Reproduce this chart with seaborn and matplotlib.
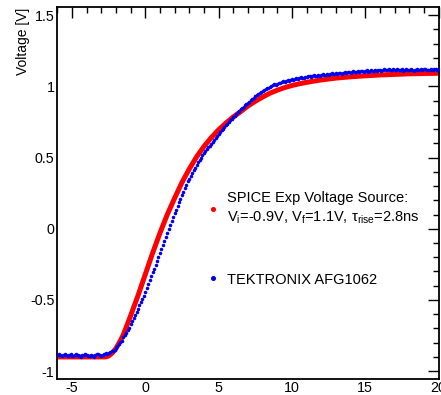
import numpy as np
import pandas as pd
import matplotlib
matplotlib.use("Agg")
import matplotlib.pyplot as plt
import seaborn as sns
from matplotlib.lines import Line2D
from matplotlib.ticker import MultipleLocator

# ---------------- data ----------------
red_t = [-6.0, -5.0, -4.0, -3.0, -2.7, -2.5, -2.25, -2.0, -1.75, -1.5, -1.0, -0.5,
         0.0, 0.5, 1.0, 1.5, 2.0, 2.5, 3.0, 3.5, 4.0, 4.5, 5.0, 5.5, 6.0, 6.5, 7.0,
         7.5, 8.0, 8.5, 9.0, 9.5, 10.0, 10.5, 11.0, 11.5, 12.0, 13.0, 14.0, 15.0,
         16.0, 17.0, 18.0, 19.0, 20.0]
red_v = [-0.900, -0.900, -0.900, -0.900, -0.900, -0.893, -0.872, -0.840, -0.795,
         -0.745, -0.610, -0.470, -0.320, -0.170, -0.030, 0.100, 0.215, 0.325,
         0.420, 0.505, 0.578, 0.640, 0.695, 0.742, 0.785, 0.822, 0.862, 0.895,
         0.925, 0.952, 0.973, 0.991, 1.006, 1.018, 1.028, 1.037, 1.045, 1.058,
         1.067, 1.074, 1.080, 1.084, 1.088, 1.090, 1.092]

# measured samples, every 0.1 ns from -6.0 to 20.0
blue_t = np.round(np.arange(-60, 201) / 10.0, 1)
blue_v = [
    -0.884, -0.879, -0.886, -0.891, -0.883, -0.878, -0.887, -0.893, -0.889, -0.882,
    -0.890, -0.896, -0.887, -0.880, -0.885, -0.892, -0.898, -0.889, -0.883, -0.879,
    -0.886, -0.894, -0.890, -0.884, -0.891, -0.897, -0.888, -0.881, -0.878, -0.886,
    -0.893, -0.887, -0.876, -0.871, -0.880, -0.872, -0.862, -0.858, -0.861, -0.850,
    -0.838, -0.826, -0.810, -0.797, -0.786, -0.760, -0.745, -0.730, -0.712, -0.695,
    -0.668, -0.648, -0.626, -0.605, -0.583, -0.561, -0.538, -0.516, -0.495, -0.470,
    -0.443, -0.415, -0.388, -0.360, -0.332, -0.305, -0.280, -0.255, -0.228, -0.200,
    -0.172, -0.145, -0.115, -0.087, -0.058, -0.030, 0.000, 0.028, 0.056, 0.085,
    0.108, 0.135, 0.160, 0.186, 0.212, 0.236, 0.258, 0.285, 0.310, 0.332,
    0.350, 0.370, 0.392, 0.410, 0.430, 0.448, 0.466, 0.484, 0.500, 0.516,
    0.530, 0.544, 0.557, 0.571, 0.584, 0.597, 0.610, 0.624, 0.638, 0.651,
    0.664, 0.676, 0.690, 0.700, 0.714, 0.726, 0.738, 0.750, 0.762, 0.772,
    0.784, 0.795, 0.807, 0.817, 0.828, 0.838, 0.848, 0.858, 0.867, 0.875,
    0.885, 0.893, 0.903, 0.910, 0.920, 0.932, 0.937, 0.945, 0.953, 0.962,
    0.967, 0.975, 0.979, 0.988, 0.991, 0.996, 1.004, 1.006, 1.013, 1.012,
    1.019, 1.025, 1.022, 1.030, 1.035, 1.032, 1.040, 1.044, 1.041, 1.047,
    1.050, 1.045, 1.053, 1.058, 1.052, 1.060, 1.063, 1.057, 1.062, 1.068,
    1.064, 1.070, 1.074, 1.067, 1.072, 1.078, 1.071, 1.076, 1.081, 1.075,
    1.079, 1.084, 1.078, 1.083, 1.089, 1.082, 1.086, 1.091, 1.085, 1.090,
    1.094, 1.087, 1.092, 1.097, 1.090, 1.095, 1.099, 1.093, 1.098, 1.102,
    1.096, 1.100, 1.105, 1.098, 1.103, 1.108, 1.101, 1.106, 1.110, 1.103,
    1.107, 1.112, 1.104, 1.109, 1.114, 1.107, 1.111, 1.116, 1.108, 1.113,
    1.118, 1.110, 1.114, 1.120, 1.112, 1.116, 1.121, 1.113, 1.117, 1.122,
    1.114, 1.118, 1.124, 1.116, 1.113, 1.119, 1.111, 1.115, 1.120, 1.113,
    1.117, 1.122, 1.114, 1.110, 1.116, 1.121, 1.113, 1.118, 1.123, 1.115,
    1.119, 1.124, 1.116, 1.112, 1.118, 1.123, 1.115, 1.120, 1.125, 1.117,
    1.121,
]

x_ticks = [-5, 0, 5, 10, 15, 20]
x_tick_labels = ['-5', '0', '5', '10', '15', '20']
y_ticks = [-1, -0.5, 0, 0.5, 1, 1.5]
y_tick_labels = ['-1', '-0.5', '0', '0.5', '1', '1.5']

red_label = ("SPICE Exp Voltage Source:\n"
             "V$_\\mathregular{i}$=-0.9V, V$_\\mathregular{f}$=1.1V, "
             "$\\mathregular{\\tau_{rise}}$=2.8ns")
blue_label = "TEKTRONIX AFG1062"
y_label = "Voltage [V]"

# ---------------- style ----------------
sns.set_theme(style="white")
plt.rcParams['font.family'] = ['Liberation Sans', 'DejaVu Sans']
plt.rcParams['mathtext.fontset'] = 'custom'
plt.rcParams['mathtext.rm'] = 'Liberation Sans'
plt.rcParams['mathtext.it'] = 'Liberation Sans'
plt.rcParams['text.color'] = 'black'
plt.rcParams['axes.labelcolor'] = 'black'
plt.rcParams['xtick.color'] = 'black'
plt.rcParams['ytick.color'] = 'black'
plt.rcParams['axes.edgecolor'] = 'black'

fig = plt.figure(figsize=(4.41, 3.95), dpi=100)
ax = fig.add_axes([0.130, 0.0405, 0.8644, 0.941])

sns.lineplot(x=red_t, y=red_v, color='#ff0000', lw=3.6, ax=ax,
             solid_capstyle='round', zorder=2)
sns.scatterplot(x=blue_t, y=blue_v, color='#0000ee', s=6.5, linewidth=0,
                ax=ax, zorder=3)

ax.set_xlim(-6, 20)
ax.set_ylim(-1.055, 1.555)
ax.xaxis.set_minor_locator(MultipleLocator(1))
ax.yaxis.set_minor_locator(MultipleLocator(0.1))
ax.set_xticks(x_ticks)
ax.set_xticklabels(x_tick_labels)
ax.set_yticks(y_ticks)
ax.set_yticklabels(y_tick_labels)

ax.tick_params(which='both', direction='in', top=True, right=True,
               labelsize=10.3, width=1.0)
ax.tick_params(which='major', length=8)
ax.tick_params(which='minor', length=4)
ax.tick_params(axis='y', pad=2)
ax.tick_params(axis='x', pad=1.5)
for sp in ax.spines.values():
    sp.set_linewidth(1.3)
    sp.set_color('black')

ax.set_xlabel('')
ax.set_ylabel(y_label, fontsize=10, loc='top')
ax.yaxis.set_label_coords(-0.073, 1.0)

handles = [Line2D([], [], marker='o', ls='', color='#ff0000', markersize=2.6),
           Line2D([], [], marker='o', ls='', color='#0000ee', markersize=2.6)]
leg = ax.legend(handles, [red_label, blue_label], loc='upper left',
                bbox_to_anchor=(0.392, 0.506), frameon=False, fontsize=10.5,
                labelspacing=3.2, handlelength=0.8, handletextpad=0.6,
                borderpad=0, borderaxespad=0)
for t in leg.get_texts():
    t.set_linespacing(1.38)

fig.savefig('out.png', dpi=100)
